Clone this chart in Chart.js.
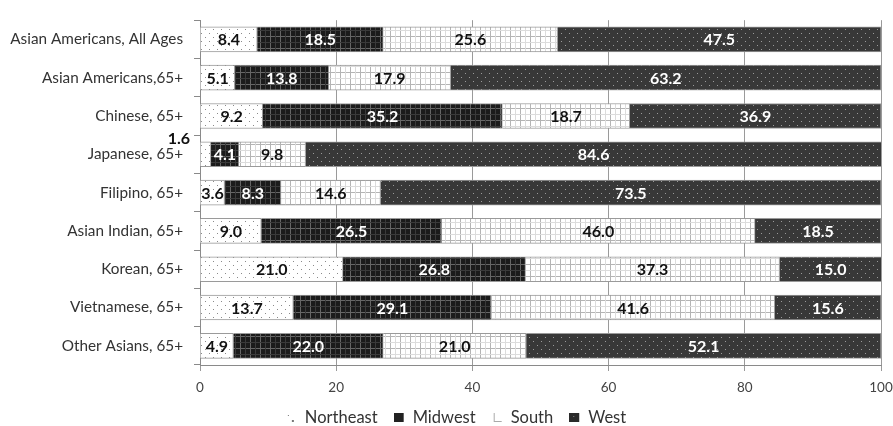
<!DOCTYPE html>
<html>
<head>
<meta charset="utf-8">
<script src="https://cdn.jsdelivr.net/npm/chart.js@4/dist/chart.umd.min.js"></script>
<style>
  html, body { margin: 0; padding: 0; background: #fff; }
  #wrap { width: 893px; height: 426px; }
</style>
</head>
<body>
<div id="wrap"><canvas id="c" width="893" height="426"></canvas></div>
<script>
// Regional distribution (%) of Asian American groups
const categories = [
  'Asian Americans, All Ages',
  'Asian Americans,65+',
  'Chinese, 65+',
  'Japanese, 65+',
  'Filipino, 65+',
  'Asian Indian, 65+',
  'Korean, 65+',
  'Vietnamese, 65+',
  'Other Asians, 65+'
];
const northeast = [8.4, 5.1, 9.2, 1.6, 3.6, 9.0, 21.0, 13.7, 4.9];
const midwest   = [18.5, 13.8, 35.2, 4.1, 8.3, 26.5, 26.8, 29.1, 22.0];
const south     = [25.6, 17.9, 18.7, 9.8, 14.6, 46.0, 37.3, 41.6, 21.0];
const west      = [47.5, 63.2, 36.9, 84.6, 73.5, 18.5, 15.0, 15.6, 52.1];
const xTicks    = [0, 20, 40, 60, 80, 100];
const names     = ['Northeast', 'Midwest', 'South', 'West'];

const FONT = 'Lato, "Open Sans", sans-serif';

function tile(w, h, paint) {
  const cv = document.createElement('canvas');
  cv.width = w; cv.height = h;
  paint(cv.getContext('2d'));
  return cv;
}
const ctx0 = document.createElement('canvas').getContext('2d');

// Fill textures
const dotsLight = tile(8, 8, g => {
  g.fillStyle = '#fff'; g.fillRect(0, 0, 8, 8);
  g.fillStyle = '#8a8a8a';
  g.fillRect(1, 1, 1, 1); g.fillRect(5, 5, 1, 1);
});
const gridDark = tile(10, 12, g => {
  g.fillStyle = '#1b1b1b'; g.fillRect(0, 0, 10, 12);
  g.fillStyle = '#666';
  g.fillRect(0, 0, 1, 12); g.fillRect(0, 0, 10, 1);
  g.fillStyle = '#3a3a3a';
  g.fillRect(5, 0, 1, 12); g.fillRect(0, 6, 10, 1);
});
const gridLight = tile(10, 12, g => {
  g.fillStyle = '#fff'; g.fillRect(0, 0, 10, 12);
  g.fillStyle = '#b4b4b4';
  g.fillRect(0, 0, 1, 12); g.fillRect(0, 0, 10, 1);
  g.fillStyle = '#dcdcdc';
  g.fillRect(5, 0, 1, 12); g.fillRect(0, 6, 10, 1);
});
const dotsDark = tile(8, 8, g => {
  g.fillStyle = '#383838'; g.fillRect(0, 0, 8, 8);
  g.fillStyle = '#9a9a9a';
  g.fillRect(1, 1, 1, 1); g.fillRect(5, 5, 1, 1);
});

const fills = [
  ctx0.createPattern(dotsLight, 'repeat'),
  ctx0.createPattern(gridDark, 'repeat'),
  ctx0.createPattern(gridLight, 'repeat'),
  ctx0.createPattern(dotsDark, 'repeat')
];

// Legend markers (11x11)
const icons = [
  tile(11, 11, g => { g.fillStyle = '#777'; g.fillRect(2, 3, 1, 1); g.fillRect(6, 8, 2, 2); }),
  tile(11, 11, g => { g.fillStyle = '#222'; g.fillRect(0, 1, 10, 9); }),
  tile(11, 11, g => { g.fillStyle = '#aaa'; g.fillRect(2, 1, 1, 9); g.fillRect(2, 9, 8, 1); }),
  tile(11, 11, g => { g.fillStyle = '#2a2a2a'; g.fillRect(0, 1, 10, 9); g.fillStyle = '#888'; g.fillRect(4, 4, 1, 1); })
];

const labelColors = ['#111', '#fff', '#111', '#fff'];

const valueLabels = {
  id: 'valueLabels',
  afterDatasetsDraw(chart) {
    const g = chart.ctx;
    g.save();
    g.font = 'bold 16px ' + FONT;
    g.textBaseline = 'middle';
    chart.data.datasets.forEach((ds, di) => {
      const meta = chart.getDatasetMeta(di);
      meta.data.forEach((bar, i) => {
        const v = ds.data[i];
        const txt = v.toFixed(1);
        if (v < 2) {
          g.fillStyle = '#111';
          g.textAlign = 'right';
          g.fillText(txt, chart.chartArea.left - 10, bar.y - bar.height / 2 - 3);
          return;
        }
        g.fillStyle = labelColors[di];
        g.textAlign = 'center';
        g.fillText(txt, (bar.x + bar.base) / 2, bar.y + 1);
      });
    });
    g.restore();
  }
};

// Legend row under the axis
const legendRow = {
  id: 'legendRow',
  afterDraw(chart) {
    const g = chart.ctx;
    g.save();
    g.font = '16.5px ' + FONT;
    g.textBaseline = 'middle';
    g.textAlign = 'left';
    const iconW = 11, iconGap = 8, itemGap = 16;
    const widths = names.map(n => iconW + iconGap + g.measureText(n).width);
    const total = widths.reduce((a, b) => a + b, 0) + itemGap * (names.length - 1);
    let x = 456 - total / 2;
    const y = 418;
    names.forEach((n, i) => {
      g.drawImage(icons[i], x, y - 6);
      g.fillStyle = '#333';
      g.fillText(n, x + iconW + iconGap, y);
      x += widths[i] + itemGap;
    });
    g.restore();
  }
};

const series = [northeast, midwest, south, west];

new Chart(document.getElementById('c'), {
  type: 'bar',
  data: {
    labels: categories,
    datasets: series.map((d, i) => ({
      label: names[i],
      data: d,
      backgroundColor: fills[i],
      borderColor: '#9a9a9a',
      borderWidth: 1,
      barThickness: 25
    }))
  },
  options: {
    indexAxis: 'y',
    responsive: false,
    animation: false,
    layout: { padding: { top: 12, right: 12, left: 0, bottom: 31 } },
    scales: {
      x: {
        stacked: true,
        min: 0, max: 100,
        afterBuildTicks: s => { s.ticks = xTicks.map(v => ({ value: v })); },
        afterFit: s => { s.height = 30; s.paddingRight = 0; s.paddingLeft = 0; },
        grid: { color: '#9a9a9a', lineWidth: 1, tickLength: 6 },
        border: { color: '#8a8a8a' },
        ticks: { color: '#444', font: { family: FONT, size: 13.5 }, padding: 9 }
      },
      y: {
        stacked: true,
        afterFit: s => { s.width = 200; },
        grid: { drawOnChartArea: false, color: '#8a8a8a', tickLength: 6 },
        border: { color: '#8a8a8a' },
        ticks: { color: '#333', font: { family: FONT, size: 15.3 }, padding: 11 }
      }
    },
    plugins: {
      legend: { display: false },
      tooltip: { enabled: false }
    }
  },
  plugins: [valueLabels, legendRow]
});
</script>
</body>
</html>
